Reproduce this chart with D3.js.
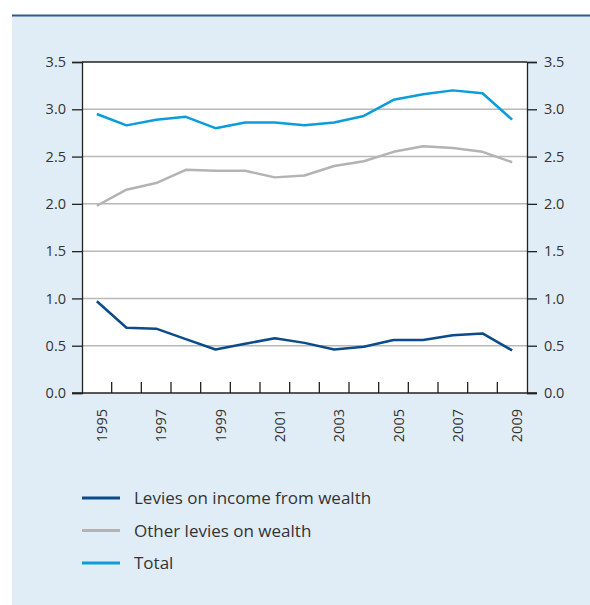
<!DOCTYPE html>
<html>
<head>
<meta charset="utf-8">
<script src="https://cdn.jsdelivr.net/npm/d3@7"></script>
<style>
  body { margin: 0; background: #fff; }
  text { font-family: "Open Sans", "Noto Sans", sans-serif; fill: #333; }
</style>
</head>
<body>
<div id="chart"></div>
<script>
var years = [1995, 1996, 1997, 1998, 1999, 2000, 2001, 2002, 2003, 2004, 2005, 2006, 2007, 2008, 2009];
var incomeLevies = [0.97, 0.69, 0.68, 0.57, 0.46, 0.52, 0.58, 0.53, 0.46, 0.49, 0.56, 0.56, 0.61, 0.63, 0.45];
var otherLevies = [1.98, 2.15, 2.22, 2.36, 2.35, 2.35, 2.28, 2.30, 2.40, 2.45, 2.55, 2.61, 2.59, 2.55, 2.44];
var totals = [2.95, 2.83, 2.89, 2.92, 2.80, 2.86, 2.86, 2.83, 2.86, 2.93, 3.10, 3.16, 3.20, 3.17, 2.89];
var yTicks = [0, 0.5, 1, 1.5, 2, 2.5, 3, 3.5];
var seriesNames = ["Levies on income from wealth", "Other levies on wealth", "Total"];
var seriesColors = ["#0b4a8b", "#b3b3b3", "#0b9ddb"];

var w = 590, h = 605;
var plotLeft = 82, plotRight = 527, plotTop = 62, plotBottom = 393;

var svg = d3.select("#chart").append("svg")
	.attr("width", w)
	.attr("height", h);

// panel
svg.append("rect")
	.attr("x", 12).attr("y", 15)
	.attr("width", w - 12).attr("height", h - 15)
	.attr("fill", "#e1edf6");
svg.append("line")
	.attr("x1", 12).attr("x2", w)
	.attr("y1", 15.5).attr("y2", 15.5)
	.attr("stroke", "#2a5b8e")
	.attr("stroke-width", 2);

var xScale = d3.scaleBand()
	.domain(years)
	.range([plotLeft, plotRight]);
var yScale = d3.scaleLinear()
	.domain([0, 3.5])
	.range([plotBottom, plotTop]);

svg.append("rect")
	.attr("x", plotLeft).attr("y", plotTop)
	.attr("width", plotRight - plotLeft).attr("height", plotBottom - plotTop)
	.attr("fill", "#fff");

// grid
svg.append("g")
	.selectAll("line")
	.data(yTicks.filter(function (d) { return d > 0 && d < 3.5; }))
	.enter()
	.append("line")
	.attr("x1", plotLeft).attr("x2", plotRight)
	.attr("y1", function (d) { return yScale(d); })
	.attr("y2", function (d) { return yScale(d); })
	.attr("stroke", "#b8b8b8")
	.attr("stroke-width", 1.5);

// y axes
var yLeft = svg.append("g")
	.attr("transform", "translate(" + plotLeft + ",0)")
	.call(d3.axisLeft(yScale).tickValues(yTicks).tickSize(10).tickPadding(6).tickFormat(d3.format(".1f")));
var yRight = svg.append("g")
	.attr("transform", "translate(" + plotRight + ",0)")
	.call(d3.axisRight(yScale).tickValues(yTicks).tickSize(10).tickPadding(7).tickFormat(d3.format(".1f")));
[yLeft, yRight].forEach(function (g) {
	g.select(".domain").attr("stroke", "#222").attr("stroke-width", 1.3);
	g.selectAll(".tick line").attr("stroke", "#222").attr("stroke-width", 1.3);
	g.selectAll("text").style("font-size", "14.5px").attr("fill", "#333");
});

// top border
svg.append("line")
	.attr("x1", plotLeft).attr("x2", plotRight)
	.attr("y1", plotTop).attr("y2", plotTop)
	.attr("stroke", "#222").attr("stroke-width", 1.3);

// x axis: ticks between years
var xg = svg.append("g");
xg.selectAll("line.tk")
	.data(years.slice(1))
	.enter()
	.append("line")
	.attr("class", "tk")
	.attr("x1", function (d) { return xScale(d); })
	.attr("x2", function (d) { return xScale(d); })
	.attr("y1", plotBottom).attr("y2", plotBottom - 11)
	.attr("stroke", "#222").attr("stroke-width", 1.3);
xg.append("line")
	.attr("x1", plotLeft - 10).attr("x2", plotRight + 10)
	.attr("y1", plotBottom).attr("y2", plotBottom)
	.attr("stroke", "#222").attr("stroke-width", 1.3);
xg.selectAll("text")
	.data(years.filter(function (d) { return d % 2 == 1; }))
	.enter()
	.append("text")
	.attr("transform", function (d) {
		return "translate(" + (xScale(d) + xScale.bandwidth() / 2 + 10) + "," + (plotBottom + 16) + ") rotate(-90)";
	})
	.attr("text-anchor", "end")
	.style("font-size", "14.5px")
	.text(function (d) { return d; });

// lines
var allSeries = [incomeLevies, otherLevies, totals];
var line = d3.line()
	.x(function (d, i) { return xScale(years[i]) + xScale.bandwidth() / 2; })
	.y(function (d) { return yScale(d); });
svg.append("g")
	.selectAll("path")
	.data(allSeries)
	.enter()
	.append("path")
	.attr("d", line)
	.attr("fill", "none")
	.attr("stroke", function (d, i) { return seriesColors[i]; })
	.attr("stroke-width", 2.5)
	.attr("stroke-linejoin", "round");

// legend
var legend = svg.append("g")
	.selectAll("g")
	.data(seriesNames)
	.enter()
	.append("g")
	.attr("transform", function (d, i) { return "translate(82," + (498 + i * 32.5) + ")"; });
legend.append("line")
	.attr("x1", 0).attr("x2", 38)
	.attr("stroke", function (d, i) { return seriesColors[i]; })
	.attr("stroke-width", 3);
legend.append("text")
	.attr("x", 52).attr("y", 6)
	.style("font-size", "17px")
	.attr("fill", "#222")
	.text(function (d) { return d; });
</script>
</body>
</html>
